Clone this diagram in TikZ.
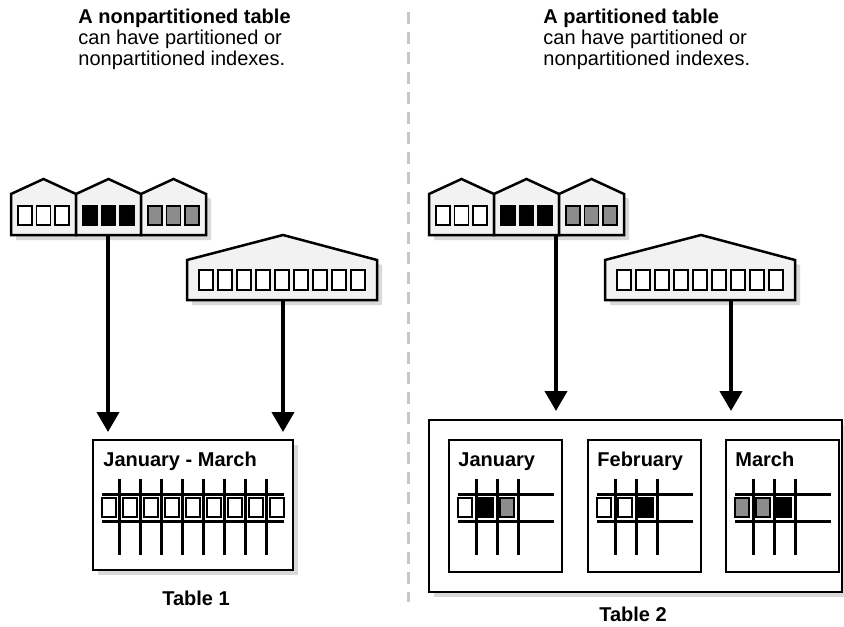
\documentclass[tikz,border=0pt]{standalone}
\usepackage{fontspec}
\setmainfont{Liberation Sans}
\usetikzlibrary{arrows.meta}

\definecolor{bldgfill}{gray}{0.95}
\definecolor{shadowgray}{gray}{0.85}
\definecolor{cellgray}{gray}{0.55}
\definecolor{divgray}{gray}{0.78}

\tikzset{
  dropshadow/.style={fill=shadowgray, draw=none},
  bldg/.style={draw=black, line width=1.25pt, fill=bldgfill, line join=miter},
  boxline/.style={draw=black, line width=1.3pt, fill=white},
  cell/.style={draw=black, line width=0.6pt},
  gridline/.style={line width=1.5pt},
  idxarrow/.style={line width=2pt, -{Triangle[width=11pt,length=10pt]}},
  txt/.style={font=\fontsize{10}{10.5}\selectfont, inner sep=0pt, anchor=base west, align=left},
}

\begin{document}
\begin{tikzpicture}[x=0.5pt,y=0.5pt,yscale=-1,xscale=1]
\useasboundingbox (0,0) rectangle (844,626);

%Dashed divider
\draw [divgray, line width=1.5pt, dash pattern=on 6pt off 4pt] (408,12) -- (408,602) ;

% Text Node
\node [txt] (hdrnonpart) at (78,66) {\textbf{A nonpartitioned table}\\can have partitioned or\\nonpartitioned indexes.};
% Text Node
\node [txt] (hdrpart) at (543,66) {\textbf{A partitioned table}\\can have partitioned or\\nonpartitioned indexes.};

%Index shapes, left and right half
\foreach \sx in {0,418} {
  %Shape: partitioned index, three buildings
  \foreach \i/\col in {0/white,1/black,2/cellgray} {
    \fill [dropshadow] (\sx+11+65*\i+5,240) -- (\sx+11+65*\i+5,199) -- (\sx+43.5+65*\i+5,184) -- (\sx+76+65*\i+5,199) -- (\sx+76+65*\i+5,240) -- cycle ;
  }
  \foreach \i/\col in {0/white,1/black,2/cellgray} {
    \draw [bldg] (\sx+11+65*\i,235) -- (\sx+11+65*\i,194) -- (\sx+43.5+65*\i,179) -- (\sx+76+65*\i,194) -- (\sx+76+65*\i,235) -- cycle ;
    \foreach \k in {7,25.5,44}
      \draw [cell, fill=\col] (\sx+11+65*\i+\k,206) rectangle (\sx+11+65*\i+\k+14,225) ;
  }
  %Shape: nonpartitioned index, one building
  \fill [dropshadow] (\sx+192,305) -- (\sx+192,265) -- (\sx+288,240) -- (\sx+382,265) -- (\sx+382,305) -- cycle ;
  \draw [bldg] (\sx+187,300) -- (\sx+187,260) -- (\sx+283,235) -- (\sx+377,260) -- (\sx+377,300) -- cycle ;
  \foreach \k in {0,...,8}
    \draw [cell, fill=white] (\sx+199+19*\k,270) rectangle (\sx+213+19*\k,290) ;
}

%Table 1
\fill [dropshadow] (98,445) rectangle (298,575) ;
\draw [boxline] (93,440) rectangle (293,570) ;
\node [txt] (tblonetitle) at (103,466) {\textbf{January - March}};
\foreach \k in {0,...,7}
  \draw [gridline] (119+21*\k,479) -- (119+21*\k,555) ;
\draw [gridline] (102,494) -- (284,494) ;
\draw [gridline] (102,521) -- (284,521) ;
\foreach \k in {0,...,8} {
  \fill [white] (100.5+21*\k,496.5) rectangle (117.5+21*\k,518.5) ;
  \draw [cell, fill=white] (102+21*\k,498) rectangle (116+21*\k,517) ;
}
\node [txt, anchor=base] (tblonecap) at (196,605) {\textbf{Table 1}};

%Table 2
\fill [dropshadow] (434,425) rectangle (844,597) ;
\draw [boxline] (429,420) rectangle (842,592) ;
\foreach \bx/\mname/\ca/\cb/\cc in {449/January/white/black/cellgray,588/February/white/white/black,726/March/cellgray/cellgray/black} {
  \draw [boxline] (\bx,440) rectangle (\bx+113,572) ;
  \node [txt] (month\bx) at (\bx+9,466) {\textbf{\mname}};
  \foreach \k in {27,48,69}
    \draw [gridline] (\bx+\k,479) -- (\bx+\k,555) ;
  \draw [gridline] (\bx+9,494) -- (\bx+105,494) ;
  \draw [gridline] (\bx+9,521) -- (\bx+105,521) ;
  \foreach \k/\col in {9/\ca,30/\cb,51/\cc} {
    \fill [white] (\bx+\k-1.5,496.5) rectangle (\bx+\k+15.5,518.5) ;
    \draw [cell, fill=\col] (\bx+\k,498) rectangle (\bx+\k+14,517) ;
  }
}
\node [txt, anchor=base] (tbltwocap) at (633,621) {\textbf{Table 2}};

%Arrows from the indexes to the tables
\coordinate (partidxL) at (108,235) ;
\coordinate (nonidxL) at (283,300) ;
\coordinate (tbloneA) at (108,432) ;
\coordinate (tbloneB) at (283,432) ;
\coordinate (partidxR) at (556,235) ;
\coordinate (nonidxR) at (731,300) ;
\coordinate (tbltwoA) at (556,411) ;
\coordinate (tbltwoB) at (731,411) ;
\draw [idxarrow] (partidxL) -- (tbloneA) ;
\draw [idxarrow] (nonidxL) -- (tbloneB) ;
\draw [idxarrow] (partidxR) -- (tbltwoA) ;
\draw [idxarrow] (nonidxR) -- (tbltwoB) ;

\end{tikzpicture}
\end{document}
